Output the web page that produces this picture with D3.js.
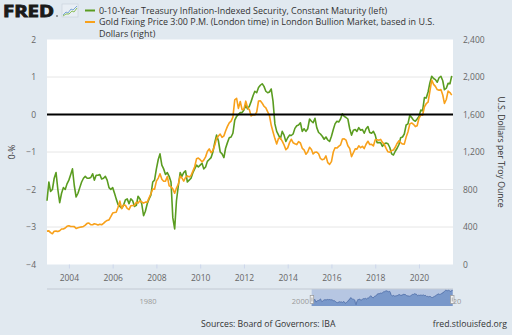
<!DOCTYPE html>
<html><head><meta charset="utf-8">
<script src="https://cdn.jsdelivr.net/npm/d3@7"></script>
<style>
body{margin:0;background:#e1e9f0;}
svg{display:block;}
text{font-family:"Open Sans",sans-serif;}
</style>
</head><body>
<svg id="c" width="512" height="335"></svg>
<script>
// ---------- DATA ----------
const startYear = 2003, startMonth = 0; // monthly observations from Jan 2003
// 0 - 10-Year TIPS yield (i.e. inverted), percent, monthly
const tipsInverted = [
 -2.30,-1.80,-2.05,-2.00,-1.70,-1.55,-2.00,-2.35,-2.10,-1.95,-2.00,-1.85,
 -1.75,-1.60,-1.45,-1.90,-2.20,-2.10,-1.95,-1.80,-1.70,-1.65,-1.70,-1.70,
 -1.68,-1.58,-1.75,-1.62,-1.62,-1.60,-1.72,-1.70,-1.65,-1.75,-1.95,-2.00,
 -1.95,-2.10,-2.25,-2.40,-2.45,-2.50,-2.42,-2.28,-2.25,-2.38,-2.25,-2.30,
 -2.45,-2.42,-2.18,-2.25,-2.38,-2.70,-2.58,-2.38,-2.25,-2.15,-1.80,-1.75,
 -1.45,-1.20,-1.05,-1.35,-1.45,-1.60,-1.55,-1.65,-1.80,-2.75,-3.05,-2.30,
 -1.90,-1.55,-1.65,-1.55,-1.50,-1.80,-1.75,-1.70,-1.55,-1.45,-1.35,-1.40,
 -1.35,-1.30,-1.45,-1.40,-1.25,-1.20,-1.15,-1.00,-0.75,-0.55,-0.70,-1.00,
 -1.05,-1.15,-0.90,-0.75,-0.62,-0.60,-0.50,-0.15,-0.05,0.00,0.05,0.05,
 0.12,0.25,0.15,0.22,0.35,0.50,0.62,0.58,0.72,0.78,0.82,0.75,
 0.62,0.58,0.60,0.68,0.35,-0.25,-0.45,-0.55,-0.65,-0.45,-0.55,-0.72,
 -0.62,-0.55,-0.56,-0.52,-0.37,-0.30,-0.28,-0.22,-0.45,-0.38,-0.45,-0.38,
 -0.12,-0.18,-0.22,-0.10,-0.35,-0.48,-0.52,-0.58,-0.66,-0.60,-0.68,-0.72,
 -0.58,-0.40,-0.25,-0.18,-0.20,-0.12,0.02,-0.05,-0.08,-0.12,-0.38,-0.55,
 -0.42,-0.40,-0.45,-0.35,-0.42,-0.40,-0.50,-0.38,-0.32,-0.48,-0.50,-0.45,
 -0.55,-0.75,-0.75,-0.75,-0.85,-0.78,-0.76,-0.78,-0.88,-1.05,-1.08,-0.98,
 -0.90,-0.80,-0.62,-0.60,-0.52,-0.28,-0.25,-0.02,-0.08,-0.15,-0.18,-0.12,
 -0.05,0.12,0.10,0.45,0.44,0.60,0.84,1.02,0.96,0.93,0.86,0.98,
 1.02,0.90,0.66,0.70,0.83,0.82,1.03
];
// Gold fixing price, USD per troy ounce, monthly
const goldPrice = [
 356,359,340,328,355,356,351,360,379,379,389,407,
 414,405,406,404,384,392,398,401,406,420,439,442,
 424,424,434,429,422,430,424,438,457,470,476,510,
 549,555,557,610,676,596,633,632,598,586,627,629,
 631,665,655,679,667,655,665,665,712,754,806,803,
 889,922,968,909,888,889,939,839,829,806,760,816,
 858,943,924,890,928,946,934,949,996,1043,1127,1135,
 1118,1095,1113,1148,1205,1233,1193,1215,1271,1343,1370,1391,
 1356,1372,1424,1473,1510,1529,1572,1756,1772,1665,1739,1652,
 1656,1742,1674,1650,1585,1596,1594,1626,1744,1747,1721,1688,
 1670,1628,1592,1485,1414,1343,1286,1347,1349,1316,1275,1225,
 1244,1300,1336,1299,1288,1279,1311,1296,1239,1222,1176,1200,
 1251,1227,1179,1198,1199,1181,1131,1117,1125,1159,1086,1068,
 1097,1200,1246,1242,1260,1276,1337,1341,1326,1266,1238,1151,
 1192,1234,1231,1266,1246,1260,1237,1283,1315,1280,1282,1265,
 1331,1331,1325,1335,1303,1282,1238,1202,1199,1215,1221,1250,
 1291,1320,1300,1285,1284,1359,1413,1500,1510,1495,1471,1480,
 1560,1597,1592,1683,1715,1732,1846,1968,1921,1900,1866,1858,
 1867,1808,1718,1760,1850,1834,1807
];
const leftTicks = [2,1,0,-1,-2,-3,-4];
const rightTicks = [0,400,800,1200,1600,2000,2400];
const xTickYears = [2004,2006,2008,2010,2012,2014,2016,2018,2020];
const navTickYears = [1980,2000,2020];
const legendLines = [
 "0-10-Year Treasury Inflation-Indexed Security, Constant Maturity (left)",
 "Gold Fixing Price 3:00 P.M. (London time) in London Bullion Market, based in U.S.",
 "Dollars (right)"
];

// ---------- BUILD ----------
const dates = tipsInverted.map((_, i) => new Date(startYear, startMonth + i, 1));
const green = tipsInverted.map((v, i) => ({d: dates[i], v}));
const gold = goldPrice.map((v, i) => ({d: dates[i], v}));

const svg = d3.select("#c");
const L = 47, R = 453, T = 39.5, B = 264.5;
const greenCol = "#5a9c20", orangeCol = "#f8a11b";

const x = d3.scaleTime().domain([new Date(2003,0,1), new Date(2021,6,22)]).range([L, R]);
const yL = d3.scaleLinear().domain([-4, 2]).range([B, T]);
const yR = d3.scaleLinear().domain([0, 2400]).range([B, T]);

// plot background
svg.append("rect").attr("x", L).attr("y", T).attr("width", R - L).attr("height", B - T).attr("fill", "#fff");

// gridlines
svg.append("g").selectAll("line").data(leftTicks.filter(t => t !== 0 && t !== 2 && t !== -4)).join("line")
  .attr("x1", L).attr("x2", R).attr("y1", d => yL(d)).attr("y2", d => yL(d))
  .attr("stroke", "#e6e6e6").attr("stroke-width", 1);

// left axis
const gl = svg.append("g").attr("transform", `translate(${L},0)`)
  .call(d3.axisLeft(yL).tickValues(leftTicks).tickSize(0).tickPadding(11).tickFormat(d3.format("d")));
gl.select(".domain").remove();
gl.selectAll("text").attr("fill", "#666").attr("font-size", "8.5px").attr("font-family", "Open Sans");

// right axis
const gr = svg.append("g").attr("transform", `translate(${R},0)`)
  .call(d3.axisRight(yR).tickValues(rightTicks).tickSize(0).tickPadding(10).tickFormat(d3.format(",")));
gr.select(".domain").remove();
gr.selectAll("text").attr("fill", "#666").attr("font-size", "8.5px").attr("font-family", "Open Sans");

// bottom axis
const gb = svg.append("g").attr("transform", `translate(0,${B})`)
  .call(d3.axisBottom(x).tickValues(xTickYears.map(y => new Date(y, 0, 1))).tickSize(4).tickPadding(6).tickFormat(d3.timeFormat("%Y")));
gb.select(".domain").remove();
gb.selectAll("line").attr("stroke", "#ccd6eb");
gb.selectAll("text").attr("fill", "#666").attr("font-size", "8.5px").attr("font-family", "Open Sans");

// series
const lineG = d3.line().x(d => x(d.d)).y(d => yL(d.v));
const lineO = d3.line().x(d => x(d.d)).y(d => yR(d.v));
svg.append("path").datum(green).attr("d", lineG).attr("fill", "none").attr("stroke", greenCol).attr("stroke-width", 1.6).attr("stroke-linejoin", "round");
svg.append("path").datum(gold).attr("d", lineO).attr("fill", "none").attr("stroke", orangeCol).attr("stroke-width", 1.6).attr("stroke-linejoin", "round");

// zero line
svg.append("line").attr("x1", L).attr("x2", R).attr("y1", yL(0)).attr("y2", yL(0)).attr("stroke", "#000").attr("stroke-width", 2);

// axis titles
svg.append("text").attr("transform", `translate(15,${(T+B)/2}) rotate(-90)`).attr("text-anchor", "middle")
  .attr("font-size", "8.5px").attr("fill", "#333").text("0-%");
svg.append("text").attr("transform", `translate(498,${(T+B)/2}) rotate(90)`).attr("text-anchor", "middle")
  .attr("font-size", "8.7px").attr("fill", "#333").text("U.S. Dollars per Troy Ounce");

// legend
const lg = svg.append("g");
lg.append("line").attr("x1", 85).attr("x2", 95).attr("y1", 10.5).attr("y2", 10.5).attr("stroke", greenCol).attr("stroke-width", 2);
lg.append("line").attr("x1", 85).attr("x2", 95).attr("y1", 22).attr("y2", 22).attr("stroke", orangeCol).attr("stroke-width", 2);
lg.selectAll("text.l").data(legendLines).join("text").attr("class", "l")
  .attr("x", 99).attr("y", (d, i) => 13.5 + i * 11.5).attr("font-size", "8.95px").attr("fill", "#333").text(d => d);

// FRED logo
svg.append("text").attr("x", 3).attr("y", 17).attr("font-family", "DejaVu Sans").attr("font-weight", "bold")
  .attr("font-size", "16.5px").attr("fill", "#1a1a1a").attr("stroke", "#1a1a1a").attr("stroke-width", 0.9)
  .attr("textLength", 51).attr("lengthAdjust", "spacingAndGlyphs").text("FRED");
svg.append("circle").attr("cx", 57).attr("cy", 16).attr("r", 0.8).attr("fill", "#333");
svg.append("rect").attr("x", 62).attr("y", 4).attr("width", 16).attr("height", 13).attr("fill", "#e8eef4").attr("stroke", "#c6d0da").attr("stroke-width", 0.6);
svg.append("polyline").attr("points", "63,15 66,12 68,13 71,9 73,10 77,6").attr("fill", "none").attr("stroke", "#7aa6d6").attr("stroke-width", 1);
svg.append("polyline").attr("points", "63,16 66,14 69,14 72,11 74,12 77,8").attr("fill", "none").attr("stroke", "#8cc05a").attr("stroke-width", 1);

// navigator
const NT = 289, NB = 306;
const xn = d3.scaleTime().domain([new Date(1968,3,1), new Date(2021,6,22)]).range([L, R]);
const yn = d3.scaleLinear().domain([-3.3, 1.2]).range([NB - 0.5, NT + 0.5]);
svg.append("g").selectAll("text").data(navTickYears).join("text")
  .attr("x", d => xn(new Date(d, 0, 1)) + 3).attr("y", NT + 15).attr("font-size", "7.5px").attr("fill", "#999").text(d => d);
const selX0 = xn(dates[0]), selX1 = R;
svg.append("rect").attr("x", selX0).attr("y", NT).attr("width", selX1 - selX0).attr("height", NB - NT)
  .attr("fill", "#b3c4e0").attr("fill-opacity", 0.95);
const areaN = d3.area().x(d => xn(d.d)).y0(NB).y1(d => yn(d.v));
svg.append("path").datum(green).attr("d", areaN).attr("fill", "#6f8fc6").attr("fill-opacity", 0.85);
svg.append("path").datum(green).attr("d", d3.line().x(d => xn(d.d)).y(d => yn(d.v))).attr("fill", "none").attr("stroke", "#4a6aa5").attr("stroke-width", 0.8);
svg.append("line").attr("x1", L).attr("x2", R).attr("y1", NT).attr("y2", NT).attr("stroke", "#c2c9d3").attr("stroke-width", 1);
[selX0, selX1 - 1].forEach(hx => {
  svg.append("rect").attr("x", hx - 1.5).attr("y", 295.5).attr("width", 3.5).attr("height", 8)
    .attr("fill", "#f2f2f2").attr("stroke", "#999").attr("stroke-width", 0.7);
  svg.append("line").attr("x1", hx + 0.25).attr("x2", hx + 0.25).attr("y1", 297.5).attr("y2", 301.5).attr("stroke", "#666").attr("stroke-width", 0.5);
});

// footer
svg.append("text").attr("x", 201).attr("y", 327).attr("font-size", "8.7px").attr("fill", "#333").text("Sources: Board of Governors: IBA");
svg.append("text").attr("x", 507).attr("y", 327).attr("text-anchor", "end").attr("font-size", "8.7px").attr("fill", "#333").text("fred.stlouisfed.org");
</script>
</body></html>
